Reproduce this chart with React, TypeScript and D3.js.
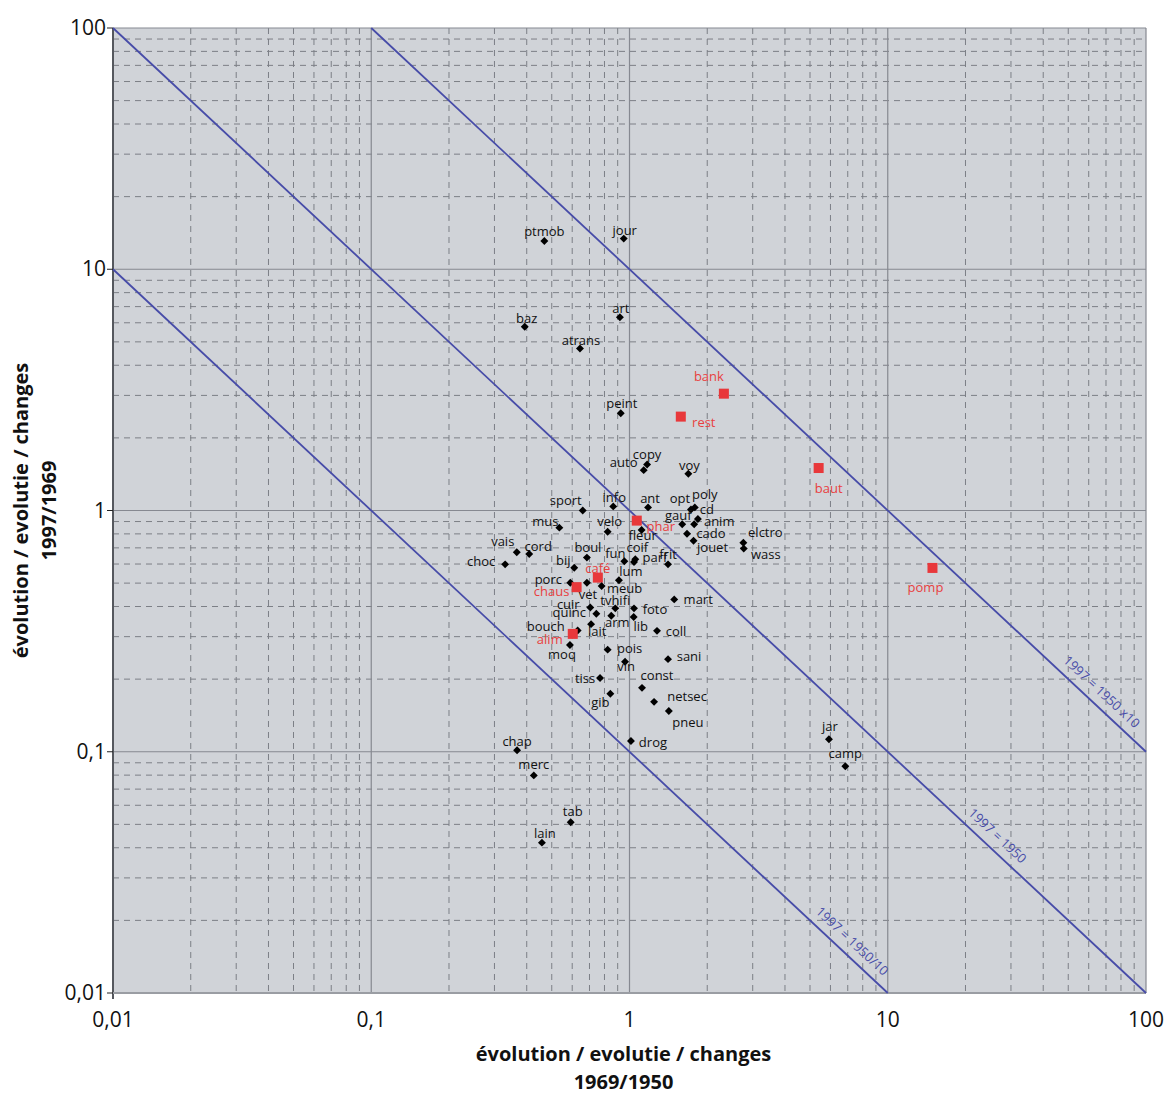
import * as d3 from "d3";
import React from "react";

// sector codes and their two ratios
const codes = [
  "ptmob", "jour", "art", "baz", "atrans", "peint", "bank", "rest", "copy", "auto",
  "voy", "baut", "info", "ant", "sport", "opt", "poly", "cd", "anim", "gauf",
  "cado", "jouet", "elctro", "wass", "pomp", "mus", "velo", "phar", "fleur", "vais",
  "cord", "choc", "boul", "bij", "fun", "coif", "parf", "frit", "café", "lum",
  "porc", "vet", "meub", "chaus", "mart", "cuir", "tvhifi", "foto", "quinc", "arm",
  "lib", "lait", "bouch", "coll", "alim", "moq", "pois", "vin", "sani", "tiss",
  "const", "gib", "netsec", "pneu", "drog", "chap", "merc", "tab", "lain", "jar",
  "camp",
];
// évolution 1969/1950
const change6950 = [
  0.468, 0.95, 0.918, 0.393, 0.643, 0.925, 2.32, 1.58, 1.17, 1.135,
  1.69, 5.4, 0.865, 1.18, 0.659, 1.73, 1.79, 1.84, 1.78, 1.6,
  1.67, 1.77, 2.76, 2.77, 14.9, 0.535, 0.823, 1.067, 1.114, 0.366,
  0.409, 0.33, 0.684, 0.611, 0.955, 1.053, 1.041, 1.41, 0.754, 0.91,
  0.59, 0.684, 0.78, 0.624, 1.49, 0.705, 0.881, 1.041, 0.744, 0.85,
  1.038, 0.71, 0.63, 1.278, 0.603, 0.588, 0.823, 0.961, 1.41, 0.769,
  1.118, 0.843, 1.245, 1.42, 1.013, 0.367, 0.426, 0.592, 0.458, 5.92,
  6.85,
];
// évolution 1997/1969
const change9769 = [
  13.1, 13.4, 6.32, 5.78, 4.69, 2.53, 3.05, 2.45, 1.55, 1.47,
  1.42, 1.5, 1.04, 1.03, 1.0, 1.01, 1.03, 0.922, 0.877, 0.877,
  0.801, 0.749, 0.735, 0.695, 0.578, 0.849, 0.817, 0.908, 0.83, 0.671,
  0.66, 0.598, 0.638, 0.579, 0.616, 0.628, 0.612, 0.598, 0.527, 0.514,
  0.502, 0.502, 0.486, 0.481, 0.428, 0.396, 0.393, 0.393, 0.373, 0.366,
  0.362, 0.338, 0.318, 0.317, 0.308, 0.277, 0.265, 0.236, 0.242, 0.202,
  0.184, 0.174, 0.161, 0.1475, 0.1108, 0.1014, 0.0798, 0.051, 0.042, 0.1126,
  0.0871,
];
const highlighted = ["bank", "rest", "baut", "phar", "café", "chaus", "alim", "pomp"];

const majorTicks = [0.01, 0.1, 1, 10, 100];
const tickLabels = ["0,01", "0,1", "1", "10", "100"];
// reference lines 1997 = 1950 * factor  (y = factor / x)
const refFactors = [0.1, 1, 10];
const refLabels = ["1997 = 1950/10", "1997 = 1950", "1997 = 1950 x10"];

// label placement (dx, dy from the marker)
const labelOffset: Record<string, [number, number]> = {
  ptmob: [0, -5], jour: [1, -4], art: [1, -4], baz: [2, -4], atrans: [1, -4],
  peint: [1, -5], bank: [-15, -13], rest: [23, 10], copy: [0, -6], auto: [-20, -3],
  voy: [1, -4], baut: [10, 25], info: [1, -4], ant: [2, -4], sport: [-17, -6],
  opt: [-11, -6], poly: [10, -8], cd: [9, -5], anim: [25, 2], gauf: [-4, -4],
  cado: [24, 4], jouet: [19, 11], elctro: [22, -6], wass: [22, 10], pomp: [-7, 24],
  mus: [-14, -2], velo: [2, -6], phar: [24, 10], fleur: [1, 10], vais: [-14, -6],
  cord: [9, -3], choc: [-24, 2], boul: [1, -6], bij: [-11, -3], fun: [-9, -3],
  coif: [2, -7], parf: [21, 0], "café": [0, -5], lum: [12, -4], porc: [-22, 1],
  vet: [1, 16], meub: [23, 7], chaus: [-25, 9], mart: [24, 5], cuir: [-22, 1],
  tvhifi: [0, -3], foto: [21, 6], quinc: [-27, 3], arm: [6, 11], lib: [7, 14],
  lait: [6, 12], bouch: [-32, 0], coll: [19, 5], alim: [-23, 10], moq: [-8, 14],
  pois: [22, 3], vin: [1, 9], sani: [21, 2], tiss: [-15, 5], const: [15, -8],
  gib: [-10, 13], netsec: [33, -1], pneu: [19, 16], drog: [22, 6], chap: [0, -4],
  merc: [0, -6], tab: [2, -6], lain: [3, -5], jar: [1, -8], camp: [0, -8],
};

const W = 1168;
const H = 1095;
const left = 113, right = 1146, top = 28, bottom = 993;
const font = "'Open Sans', 'DejaVu Sans', sans-serif";

export default function App() {
  const x = d3.scaleLog().domain([0.01, 100]).range([left, right]);
  const y = d3.scaleLog().domain([0.01, 100]).range([bottom, top]);

  const minor: number[] = [];
  [0.01, 0.1, 1, 10].forEach((d) => {
    for (let k = 2; k <= 9; k++) minor.push(k * d);
  });

  const points = codes.map((c, i) => ({ c, vx: change6950[i], vy: change9769[i] }));
  const angle = (Math.atan2(y(0.1) - y(1), x(10) - x(1)) * 180) / Math.PI;
  // label spots along each reference line (x value where the label sits)
  const refLabelAt = [6.7, 24.5, 62];

  return (
    <div style={{ position: "absolute", left: 0, top: 0 }}>
      <svg width={W} height={H} style={{ display: "block", background: "#fff" }}>
        <rect x={left} y={top} width={right - left} height={bottom - top} fill="#d0d3d8" />
        {/* minor grid */}
        {minor.map((v) => (
          <g key={"m" + v}>
            <line x1={x(v)} x2={x(v)} y1={top} y2={bottom} stroke="#7c7f86" strokeWidth={1} strokeDasharray="6,5" />
            <line x1={left} x2={right} y1={y(v)} y2={y(v)} stroke="#7c7f86" strokeWidth={1} strokeDasharray="6,5" />
          </g>
        ))}
        {/* major grid */}
        {majorTicks.map((v) => (
          <g key={"M" + v}>
            <line x1={x(v)} x2={x(v)} y1={top} y2={bottom} stroke="#868991" strokeWidth={1.2} />
            <line x1={left} x2={right} y1={y(v)} y2={y(v)} stroke="#868991" strokeWidth={1.2} />
          </g>
        ))}
        <line x1={left} x2={left} y1={top} y2={bottom + 6} stroke="#55585e" strokeWidth={2} />
        <line x1={left} x2={right} y1={bottom} y2={bottom} stroke="#9a9da3" strokeWidth={2} />

        {/* reference lines */}
        {refFactors.map((f, i) => {
          const x0 = Math.max(0.01, f / 100);
          const x1 = Math.min(100, f / 0.01);
          const lx = refLabelAt[i];
          const px = x(lx);
          const py = y(f / lx);
          return (
            <g key={"r" + f}>
              <line x1={x(x0)} y1={y(f / x0)} x2={x(x1)} y2={y(f / x1)} stroke="#474ca8" strokeWidth={1.8} />
              <text
                transform={`translate(${px},${py}) rotate(${angle}) translate(0,-9)`}
                textAnchor="middle"
                fontFamily={font}
                fontSize={13}
                fill="#474ca8"
              >
                {refLabels[i]}
              </text>
            </g>
          );
        })}

        {/* axes ticks */}
        {majorTicks.map((v, i) => (
          <g key={"t" + v}>
            <line x1={left - 6} x2={left} y1={y(v)} y2={y(v)} stroke="#222" strokeWidth={1} />
            <text x={left - 7} y={y(v) + 7} textAnchor="end" fontFamily={font} fontSize={21} fill="#111">
              {tickLabels[i]}
            </text>
            <text x={x(v)} y={bottom + 34} textAnchor="middle" fontFamily={font} fontSize={21} fill="#111">
              {tickLabels[i]}
            </text>
          </g>
        ))}

        {/* markers */}
        {points.map((p) => {
          const red = highlighted.includes(p.c);
          const cx = x(p.vx);
          const cy = y(p.vy);
          return red ? (
            <rect key={p.c} x={cx - 5} y={cy - 5} width={10} height={10} fill="#e8383b" />
          ) : (
            <rect key={p.c} x={cx - 2.8} y={cy - 2.8} width={5.6} height={5.6} fill="#000" transform={`rotate(45,${cx},${cy})`} />
          );
        })}
        {points.map((p) => {
          const red = highlighted.includes(p.c);
          const [dx, dy] = labelOffset[p.c] || [0, -5];
          return (
            <text
              key={"l" + p.c}
              x={x(p.vx) + dx}
              y={y(p.vy) + dy}
              textAnchor="middle"
              fontFamily={font}
              fontSize={13}
              fill={red ? "#e8403f" : "#111"}
            >
              {p.c}
            </text>
          );
        })}

        {/* axis titles */}
        <text x={(left + right) / 2 - 6} y={1061} textAnchor="middle" fontFamily={font} fontSize={20} fontWeight="bold" fill="#111">
          évolution / evolutie / changes
        </text>
        <text x={(left + right) / 2 - 6} y={1089} textAnchor="middle" fontFamily={font} fontSize={20} fontWeight="bold" fill="#111">
          1969/1950
        </text>
        <text transform={`translate(28,${(top + bottom) / 2}) rotate(-90)`} textAnchor="middle" fontFamily={font} fontSize={20} fontWeight="bold" fill="#111">
          évolution / evolutie / changes
        </text>
        <text transform={`translate(56,${(top + bottom) / 2}) rotate(-90)`} textAnchor="middle" fontFamily={font} fontSize={20} fontWeight="bold" fill="#111">
          1997/1969
        </text>
      </svg>
    </div>
  );
}
